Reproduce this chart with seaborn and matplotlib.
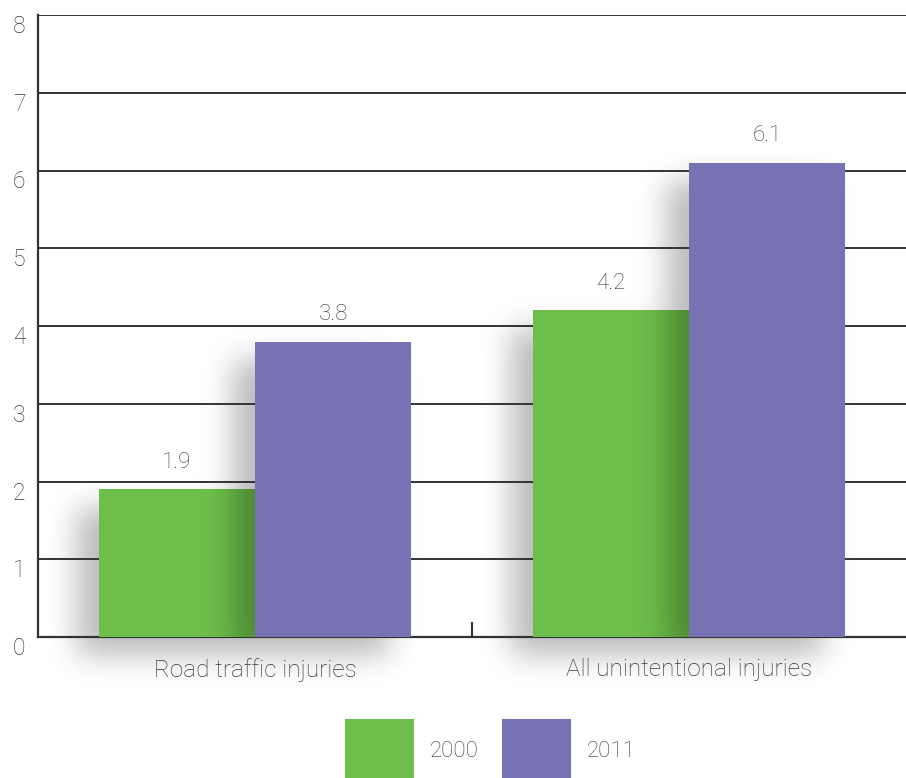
import numpy as np
import pandas as pd
import seaborn as sns
import matplotlib.pyplot as plt

# ---- data ----
categories = ["Road traffic injuries", "All unintentional injuries"]
years = ["2000", "2011"]
values_2000 = [1.9, 4.2]
values_2011 = [3.8, 6.1]
colors = ["#6dbe4a", "#7772b4"]
yticks = [0, 1, 2, 3, 4, 5, 6, 7, 8]

df = pd.DataFrame({
    "category": categories * 2,
    "year": [years[0]] * len(categories) + [years[1]] * len(categories),
    "value": values_2000 + values_2011,
})

sns.set_theme(style="white")
plt.rcParams['font.family'] = ['Roboto', 'DejaVu Sans']
plt.rcParams['font.weight'] = 'light'
text_color = '#3a3a3a'
line_color = '#333333'
fs = 16

fig = plt.figure(figsize=(9.06, 7.78), dpi=100)
ax = fig.add_axes([38 / 906, 1 - 637 / 778, 1 - 38 / 906, (637 - 15) / 778])

sns.barplot(data=df, x="category", y="value", hue="year", hue_order=years,
            order=categories, palette=colors, width=0.72, gap=0, saturation=1,
            ax=ax, zorder=3, linewidth=0)

ax.set_xlim(-0.5, 1.5)
ax.set_ylim(0, 8)
ax.set_yticks(yticks)
ax.set_xlabel("")
ax.set_ylabel("")

# grid and spines
ax.set_axisbelow(False)
ax.yaxis.grid(True, color=line_color, linewidth=1.4)
ax.xaxis.grid(False)
for s in ["top", "right"]:
    ax.spines[s].set_visible(False)
for s in ["left", "bottom"]:
    ax.spines[s].set_color(line_color)
    ax.spines[s].set_linewidth(1.6)

ax.tick_params(axis='y', length=0, pad=9, labelsize=fs + 0.5, labelcolor=text_color)
ax.tick_params(axis='x', which='major', length=0, pad=15, labelsize=17.5, labelcolor=text_color)
ax.set_xticks([0.5], minor=True)
ax.tick_params(axis='x', which='minor', direction='in', length=11, width=1.5,
               color=line_color, bottom=True)
for t in ax.get_yticklabels():
    t.set_verticalalignment('top')

# value labels
for cont in ax.containers:
    ax.bar_label(cont, fmt='%.1f', padding=12, fontsize=fs, color=text_color)

# ---- soft drop shadows derived from the drawn bars ----
x_lo, x_hi, y_lo, y_hi = -0.5, 1.5, -1.0, 8.0
bb = ax.get_position()
px_per_x = bb.width * fig.get_figwidth() * fig.dpi / (x_hi - x_lo)
px_per_y = bb.height * fig.get_figheight() * fig.dpi / (8 - 0)
nx = int(round((x_hi - x_lo) * px_per_x))
ny = int(round((y_hi - y_lo) * px_per_y))
xs = x_lo + (np.arange(nx) + 0.5) / px_per_x
ys = y_lo + (np.arange(ny) + 0.5) / px_per_y
off_x = -22 / px_per_x
off_y = -18 / px_per_y
sigma = 15.0
k = np.arange(-int(3 * sigma), int(3 * sigma) + 1)
kern = np.exp(-0.5 * (k / sigma) ** 2)
kern /= kern.sum()


def shadow_alpha(patches):
    m = np.zeros((ny, nx))
    for p in patches:
        x0, w, h = p.get_x(), p.get_width(), p.get_height()
        cx = (xs >= x0 + off_x) & (xs <= x0 + w + off_x)
        cy = (ys >= 0 + off_y) & (ys <= h + off_y)
        m[np.ix_(cy, cx)] = 1.0
    m = np.apply_along_axis(lambda r: np.convolve(r, kern, mode='same'), 1, m)
    m = np.apply_along_axis(lambda c: np.convolve(c, kern, mode='same'), 0, m)
    return m


def rgba(alpha, strength):
    img = np.zeros(alpha.shape + (4,))
    img[..., 3] = np.clip(alpha * strength, 0, 1)
    return img


green_patches = list(ax.containers[0].patches)
purple_patches = list(ax.containers[1].patches)
for p in purple_patches:
    p.set_zorder(4)

all_shadow = shadow_alpha(green_patches + purple_patches)
ax.imshow(rgba(all_shadow, 0.27), extent=(x_lo, x_hi, y_lo, y_hi), origin='lower',
          aspect='auto', zorder=1, interpolation='bilinear', clip_on=False)

purple_shadow = shadow_alpha(purple_patches)
for gp in green_patches:
    im = ax.imshow(rgba(purple_shadow, 0.28), extent=(x_lo, x_hi, y_lo, y_hi),
                   origin='lower', aspect='auto', zorder=3.5, interpolation='bilinear')
    im.set_clip_path(gp)

ax.set_xlim(-0.5, 1.5)
ax.set_ylim(0, 8)

# legend
handles, labels = ax.get_legend_handles_labels()
if ax.legend_ is not None:
    ax.legend_.remove()
fig.legend(handles, labels, loc='upper center', bbox_to_anchor=(0.541, 1 - 719 / 778),
           ncol=2, frameon=False, handlelength=3.1, handleheight=4.0,
           handletextpad=0.72, columnspacing=1.05, fontsize=fs, borderpad=0,
           labelcolor=text_color, borderaxespad=0)

fig.savefig('out.png', dpi=100)
